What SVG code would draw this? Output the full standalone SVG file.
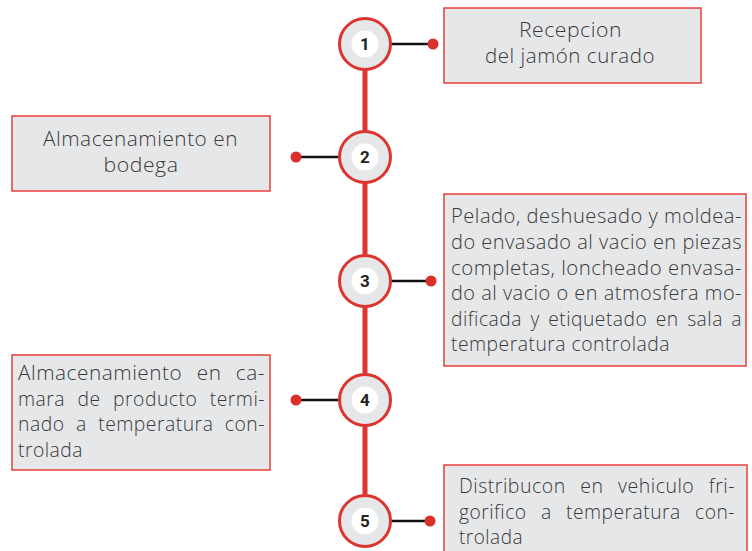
<svg xmlns="http://www.w3.org/2000/svg" width="752" height="551" viewBox="0 0 752 551">
<style>
.box{fill:#e6e7e9;stroke:#e8403a;stroke-width:1.5}
.t{font-family:"Open Sans",Lato,sans-serif;font-weight:300;font-size:19.5px;letter-spacing:0.5px;fill:#3a3a3a}
.c{text-anchor:middle}
.ring{fill:#e6e7e9;stroke:#dc3530;stroke-width:3}
.in{fill:#fff}
.num{font-family:Roboto,"Liberation Sans",sans-serif;font-weight:bold;font-size:17px;fill:#222;text-anchor:middle}
.ln{stroke:#111;stroke-width:2.5}
.dot{fill:#d9302a}
</style>
<rect width="752" height="551" fill="#fff"/>
<g id="spine"><line x1="365" y1="44" x2="365" y2="521" stroke="#dc3530" stroke-width="5"/></g>
<g id="connectors">
<line class="ln" x1="390" y1="44" x2="433" y2="44"/><circle class="dot" cx="433" cy="44" r="5.5"/>
<line class="ln" x1="296" y1="157" x2="340" y2="157"/><circle class="dot" cx="296" cy="157" r="5.5"/>
<line class="ln" x1="390" y1="281" x2="431" y2="281"/><circle class="dot" cx="431" cy="281" r="5.5"/>
<line class="ln" x1="296" y1="400" x2="340" y2="400"/><circle class="dot" cx="296" cy="400" r="5.5"/>
<line class="ln" x1="390" y1="521" x2="430" y2="521"/><circle class="dot" cx="430" cy="521" r="5.5"/>
</g>
<g id="n1"><circle class="ring" cx="365" cy="44" r="25.5"/><circle class="in" cx="365" cy="44" r="13.5"/><text class="num" x="365" y="50">1</text></g>
<g id="n2"><circle class="ring" cx="365" cy="157" r="25.5"/><circle class="in" cx="365" cy="157" r="13.5"/><text class="num" x="365" y="163">2</text></g>
<g id="n3"><circle class="ring" cx="365" cy="281" r="25.5"/><circle class="in" cx="365" cy="281" r="13.5"/><text class="num" x="365" y="287">3</text></g>
<g id="n4"><circle class="ring" cx="365" cy="400" r="25.5"/><circle class="in" cx="365" cy="400" r="13.5"/><text class="num" x="365" y="406">4</text></g>
<g id="n5"><circle class="ring" cx="365" cy="521" r="25.5"/><circle class="in" cx="365" cy="521" r="13.5"/><text class="num" x="365" y="527">5</text></g>
<g id="b1"><rect class="box" x="444" y="8" width="257" height="75"/>
<text class="t c" x="570.5" y="37" textLength="103" lengthAdjust="spacingAndGlyphs">Recepcion</text>
<text class="t c" x="570" y="63" textLength="170" lengthAdjust="spacingAndGlyphs">del jamón curado</text></g>
<g id="b2"><rect class="box" x="12" y="116" width="258" height="75"/>
<text class="t c" x="140.5" y="146" textLength="195" lengthAdjust="spacingAndGlyphs">Almacenamiento en</text>
<text class="t c" x="141" y="172" textLength="75" lengthAdjust="spacingAndGlyphs">bodega</text></g>
<g id="b3"><rect class="box" x="444" y="194" width="302" height="172"/>
<text class="t" x="451" y="223" textLength="291" lengthAdjust="spacingAndGlyphs">Pelado, deshuesado y moldea-</text>
<text class="t" x="451" y="249" textLength="291" lengthAdjust="spacingAndGlyphs">do envasado al vacio en piezas</text>
<text class="t" x="451" y="274.5" textLength="291" lengthAdjust="spacingAndGlyphs">completas, loncheado envasa-</text>
<text class="t" x="451" y="300" textLength="291" lengthAdjust="spacingAndGlyphs">do al vacio o en atmosfera mo-</text>
<text class="t" x="451" y="325.5" textLength="291" lengthAdjust="spacingAndGlyphs" style="word-spacing:3px">dificada y etiquetado en sala a</text>
<text class="t" x="451" y="351" textLength="219" lengthAdjust="spacingAndGlyphs">temperatura controlada</text></g>
<g id="b4"><rect class="box" x="12" y="355" width="258" height="115"/>
<text class="t" x="18" y="380" textLength="247" lengthAdjust="spacingAndGlyphs" style="word-spacing:8px">Almacenamiento en ca-</text>
<text class="t" x="18" y="405.5" textLength="247" lengthAdjust="spacingAndGlyphs" style="word-spacing:7px">mara de producto termi-</text>
<text class="t" x="18" y="431" textLength="247" lengthAdjust="spacingAndGlyphs" style="word-spacing:6px">nado a temperatura con-</text>
<text class="t" x="18" y="457" textLength="65" lengthAdjust="spacingAndGlyphs">trolada</text></g>
<g id="b5"><rect class="box" x="444" y="465" width="303" height="95"/>
<text class="t" x="459" y="493" textLength="276" lengthAdjust="spacingAndGlyphs" style="word-spacing:9px">Distribucon en vehiculo fri-</text>
<text class="t" x="459" y="518.5" textLength="276" lengthAdjust="spacingAndGlyphs" style="word-spacing:9px">gorifico a temperatura con-</text>
<text class="t" x="459" y="544" textLength="64" lengthAdjust="spacingAndGlyphs">trolada</text></g>
</svg>
